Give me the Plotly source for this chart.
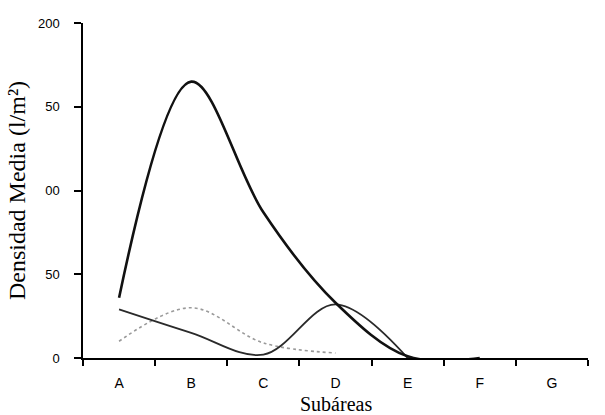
import plotly.graph_objects as go

categories = ["A", "B", "C", "D", "E", "F", "G"]
serie_1 = [36, 165, 87, 33, 1, 0]
serie_2 = [29, 15, 2, 32, 0]
serie_3 = [10, 30, 9, 3]
y_tick_vals = [0, 50, 100, 150, 200]
y_tick_text = ["0", "50", "00", "50", "200"]
x_title = "Subáreas"
y_title = "Densidad Media (l/m²)"

fig = go.Figure()
fig.add_trace(go.Scatter(x=categories[:len(serie_3)], y=serie_3, mode="lines",
                         line=dict(color="#9a9a9a", width=1.6, dash="dot", shape="spline", smoothing=1.0)))
fig.add_trace(go.Scatter(x=categories[:len(serie_2)], y=serie_2, mode="lines",
                         line=dict(color="#2a2a2a", width=1.8, shape="spline", smoothing=1.0)))
fig.add_trace(go.Scatter(x=categories[:len(serie_1)], y=serie_1, mode="lines",
                         line=dict(color="#111111", width=2.6, shape="spline", smoothing=1.0)))

fig.update_layout(
    width=605, height=415,
    margin=dict(l=83, r=17, t=23, b=57),
    paper_bgcolor="white", plot_bgcolor="white",
    showlegend=False,
    xaxis=dict(
        type="category", categoryorder="array", categoryarray=categories,
        range=[-0.5, 6.5], tickson="boundaries", automargin=False,
        showline=True, linecolor="black", linewidth=1.5,
        ticks="outside", ticklen=6, tickcolor="black", tickwidth=1.5,
        showgrid=False, zeroline=False,
        tickfont=dict(family="Liberation Sans, Arial", size=14, color="black"),
        ticklabelstandoff=11,
    ),
    yaxis=dict(
        range=[0, 200], tickvals=y_tick_vals, ticktext=y_tick_text, automargin=False,
        showline=True, linecolor="black", linewidth=1.5,
        ticks="outside", ticklen=7, tickcolor="black", tickwidth=1.5,
        showgrid=False, zeroline=False,
        tickfont=dict(family="Liberation Sans, Arial", size=13, color="black"),
        ticklabelstandoff=12,
        title=dict(text=y_title, font=dict(family="Liberation Serif, Times New Roman", size=24, color="black"), standoff=6),
    ),
    annotations=[dict(
        text=x_title, xref="paper", yref="paper", x=0.5, y=0,
        xanchor="center", yanchor="top", yshift=-33, showarrow=False,
        font=dict(family="Liberation Serif, Times New Roman", size=20, color="black"),
    )],
)

fig.write_html("out.html")
